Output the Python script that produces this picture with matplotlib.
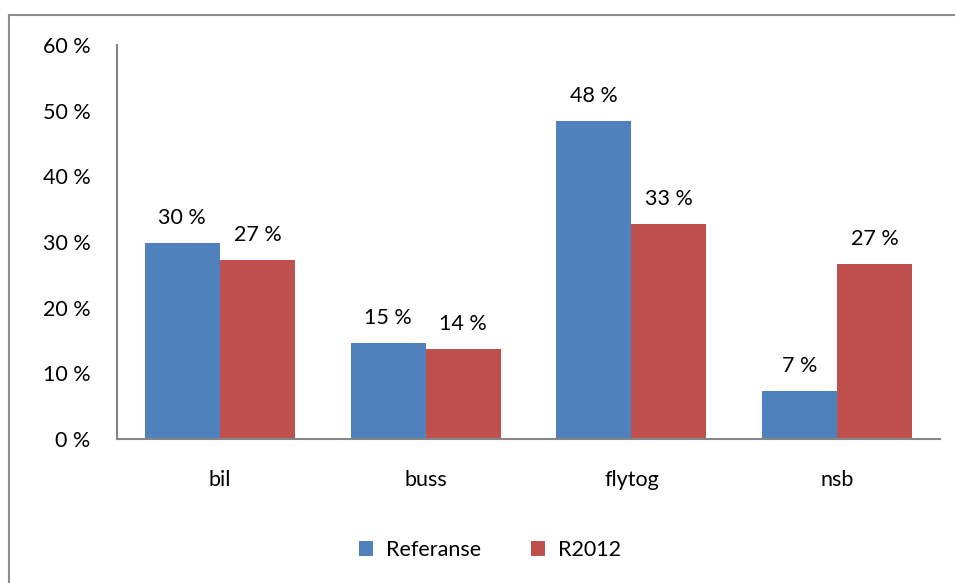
import numpy as np
import matplotlib.pyplot as plt
from matplotlib.lines import Line2D

plt.rcParams['font.family'] = ['Lato', 'DejaVu Sans']

categories = ["bil", "buss", "flytog", "nsb"]
referanse = [29.8, 14.6, 48.4, 7.3]
r2012 = [27.2, 13.7, 32.7, 26.6]

fig = plt.figure(figsize=(9.55, 5.83), dpi=100)
ax = fig.add_axes([117 / 955, 1 - 439 / 583, 823 / 955, 394 / 583])

x = np.arange(len(categories))
w = 0.365
b1 = ax.bar(x - w / 2, referanse, w, color="#4F81BD", label="Referanse")
b2 = ax.bar(x + w / 2, r2012, w, color="#C0504D", label="R2012")

fs = 15.5
for bars in (b1, b2):
    for rect in bars:
        h = rect.get_height()
        ax.annotate(f"{h:.0f} %", (rect.get_x() + rect.get_width() / 2, h),
                    xytext=(0, 11), textcoords="offset points",
                    ha="center", va="bottom", fontsize=fs)

ax.set_xlim(-0.5, len(categories) - 0.5)
ax.set_ylim(0, 60)
ax.set_yticks(range(0, 61, 10))
ax.set_yticklabels([f"{v} %" for v in range(0, 61, 10)], fontsize=fs)
ax.set_xticks(x)
ax.set_xticklabels(categories, fontsize=fs)
ax.tick_params(length=0, pad=19, axis="y")
ax.tick_params(length=0, pad=22, axis="x")
for s in ("top", "right"):
    ax.spines[s].set_visible(False)
for s in ("left", "bottom"):
    ax.spines[s].set_color("#868686")
    ax.spines[s].set_linewidth(1.5)

ax.legend(loc="center", bbox_to_anchor=(490 / 955, 1 - 550 / 583),
          bbox_transform=fig.transFigure, ncol=2, frameon=False,
          fontsize=fs, handlelength=0.65, handleheight=0.65,
          columnspacing=2.3, handletextpad=0.6)

# outer chart border
fig.add_artist(Line2D([9 / 955, 9 / 955], [0, 1 - 15 / 583], color="#8c8c8c", lw=1.5,
                      transform=fig.transFigure))
fig.add_artist(Line2D([9 / 955, 1], [1 - 15 / 583, 1 - 15 / 583], color="#8c8c8c", lw=1.5,
                      transform=fig.transFigure))

fig.savefig("out.png", dpi=100)
